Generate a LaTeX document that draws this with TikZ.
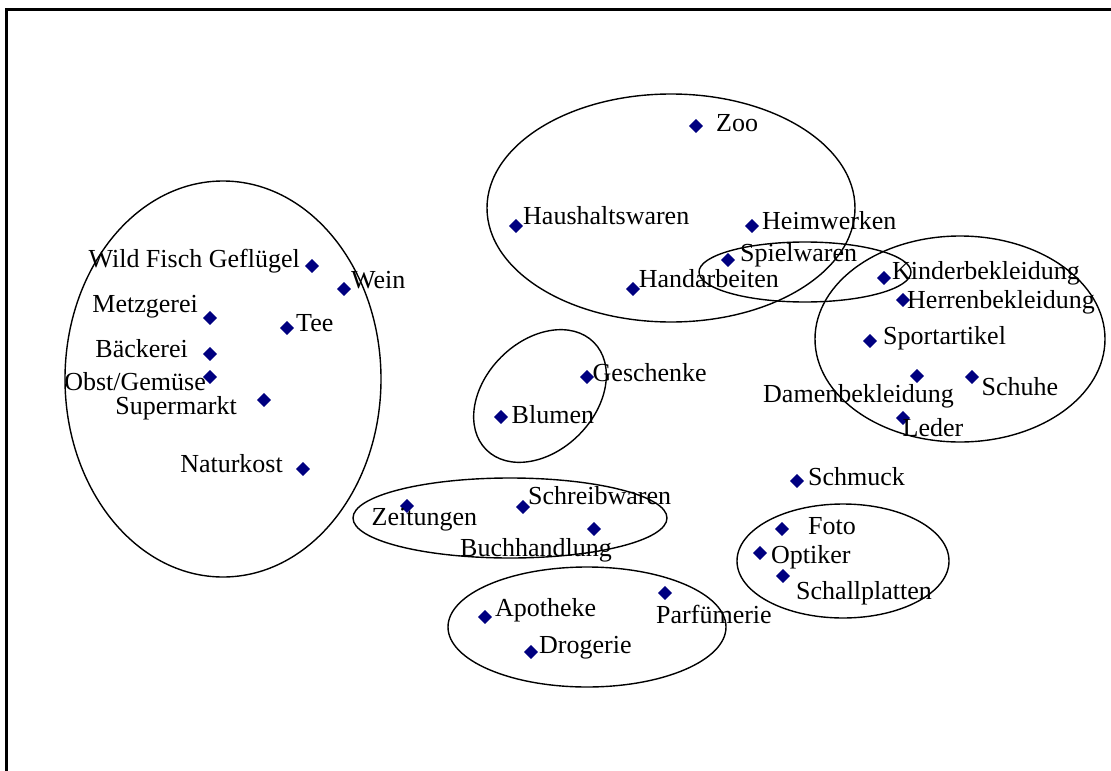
\documentclass[tikz,border=0pt]{standalone}
\usepackage{fontspec}
\setmainfont{Liberation Serif}
\usetikzlibrary{shapes.geometric}
\definecolor{markblue}{RGB}{0,0,128}
\tikzset{
  mk/.style={diamond, fill=markblue, draw=markblue, line width=0.4pt, inner sep=0pt, minimum width=13.5pt, minimum height=13.5pt},
  lbw/.style={anchor=base west, inner sep=0pt, font=\fontsize{26}{30}\selectfont},
  lbe/.style={anchor=base east, inner sep=0pt, font=\fontsize{26}{30}\selectfont},
  grp/.style={draw=black, line width=1.4pt},
}
\begin{document}
\begin{tikzpicture}[x=1pt, y=-1pt]
\useasboundingbox (0,0) rectangle (1111,771);
\fill[white] (0,0) rectangle (1111,771);
% outer frame (right and bottom edges lie outside the page)
\begin{scope}
\clip (0,0) rectangle (1111,771);
\draw[line width=2.4pt] (6.5,9.5) rectangle (1130,790);
\end{scope}

% group outlines
\draw[grp] (223,379) ellipse [x radius=158, y radius=198];
\draw[grp] (671,208) ellipse [x radius=184, y radius=114];
\draw[grp] (805,272) ellipse [x radius=106, y radius=30];
\draw[grp] (960,339) ellipse [x radius=145, y radius=103];
\draw[grp, rotate around={45:(540,396)}] (540,396) ellipse [x radius=76, y radius=55];
\draw[grp] (510,518) ellipse [x radius=157, y radius=40];
\draw[grp] (587,627) ellipse [x radius=139, y radius=60];
\draw[grp] (843,561) ellipse [x radius=106, y radius=57];

% markers
\node[mk] (mzoo)   at (696,126) {};
\node[mk] (mhaus)  at (516,226) {};
\node[mk] (mheim)  at (752,226) {};
\node[mk] (mspiel) at (728,260) {};
\node[mk] (mhand)  at (633,289) {};
\node[mk] (mwild)  at (312,266) {};
\node[mk] (mwein)  at (344,289) {};
\node[mk] (mmetz)  at (210,318) {};
\node[mk] (mtee)   at (287,328) {};
\node[mk] (mbaeck) at (210,354) {};
\node[mk] (mobst)  at (210,377) {};
\node[mk] (msuper) at (264,400) {};
\node[mk] (mnatur) at (303,469) {};
\node[mk] (mgesch) at (587,377) {};
\node[mk] (mblum)  at (501,417) {};
\node[mk] (mkind)  at (884,278) {};
\node[mk] (mherr)  at (903,300) {};
\node[mk] (msport) at (870,341) {};
\node[mk] (mdame)  at (917,376) {};
\node[mk] (mschuh) at (972,377) {};
\node[mk] (mleder) at (903,418) {};
\node[mk] (mschm)  at (797,481) {};
\node[mk] (mfoto)  at (782,529) {};
\node[mk] (mopt)   at (760,553) {};
\node[mk] (mschall) at (783,576) {};
\node[mk] (mzeit)  at (407,506) {};
\node[mk] (mschr)  at (523,507) {};
\node[mk] (mbuch)  at (594,529) {};
\node[mk] (mparf)  at (665,593) {};
\node[mk] (mapo)   at (485,617) {};
\node[mk] (mdrog)  at (531,652) {};

% labels
\node[lbw] (tzoo)   at (716,131.5) {Zoo};
\node[lbw] (thaus)  at (523,224) {Haushaltswaren};
\node[lbw] (theim)  at (762,229) {Heimwerken};
\node[lbw] (tspiel) at (740,261.5) {Spielwaren};
\node[lbe] (thand)  at (779,287) {Handarbeiten};
\node[lbe] (twild)  at (300,267) {Wild Fisch Geflügel};
\node[lbw] (twein)  at (351,288) {Wein};
\node[lbe] (tmetz)  at (198,312) {Metzgerei};
\node[lbw] (ttee)   at (296,331) {Tee};
\node[lbe] (tbaeck) at (188,357) {Bäckerei};
\node[lbe] (tobst)  at (206,390) {Obst/Gemüse};
\node[lbe] (tsuper) at (237,414) {Supermarkt};
\node[lbe] (tnatur) at (283,472) {Naturkost};
\node[lbw] (tgesch) at (592.5,381) {Geschenke};
\node[lbw] (tblum)  at (511.5,423) {Blumen};
\node[lbw] (tkind)  at (892,279) {Kinderbekleidung};
\node[lbw] (therr)  at (907,308) {Herrenbekleidung};
\node[lbw] (tsport) at (883,344) {Sportartikel};
\node[lbw] (tdame)  at (763,402) {Damenbekleidung};
\node[lbw] (tschuh) at (981.5,395) {Schuhe};
\node[lbw] (tleder) at (902.5,436.5) {Leder};
\node[lbw] (tschm)  at (808,485) {Schmuck};
\node[lbw] (tfoto)  at (808,534) {Foto};
\node[lbw] (topt)   at (771,563) {Optiker};
\node[lbw] (tschall) at (796,599) {Schallplatten};
\node[lbw] (tzeit)  at (371.5,525) {Zeitungen};
\node[lbw] (tschr)  at (528,504) {Schreibwaren};
\node[lbw] (tbuch)  at (460,556) {Buchhandlung};
\node[lbw] (tparf)  at (656,623) {Parfümerie};
\node[lbw] (tapo)   at (495,616) {Apotheke};
\node[lbw] (tdrog)  at (539,653) {Drogerie};
\end{tikzpicture}
\end{document}
